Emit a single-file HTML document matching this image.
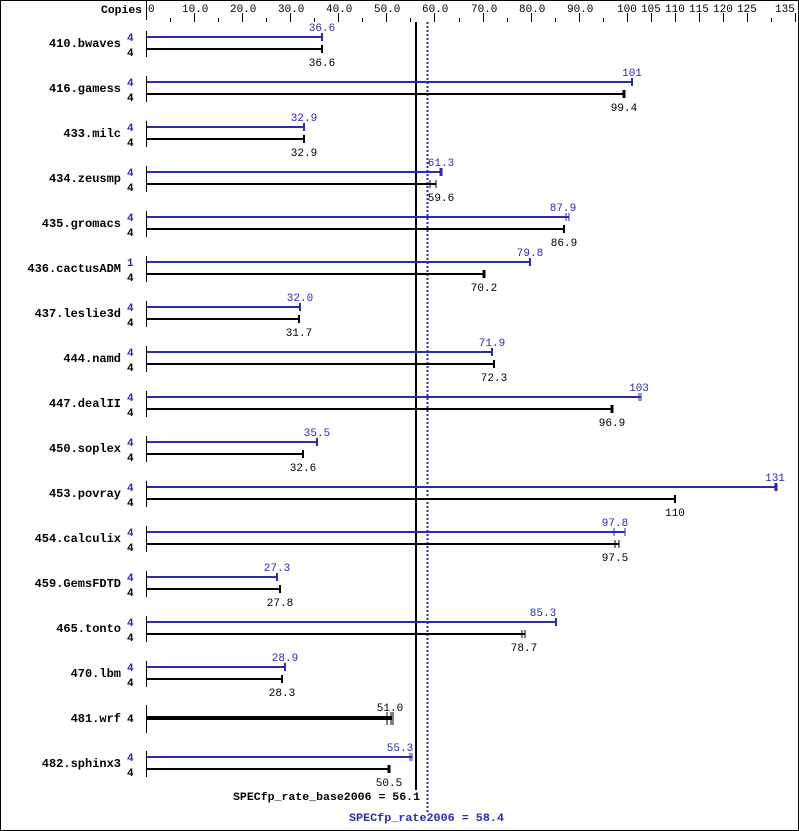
<!DOCTYPE html>
<html><head><meta charset="utf-8"><style>
body{margin:0;background:#fff}
svg{display:block}
text{font-family:"Liberation Mono","DejaVu Sans Mono",monospace}
.n{font-size:12px;font-weight:bold;fill:#000}
.c{font-size:11px;font-weight:bold}
.v{font-size:11px}
.b{fill:#2b2bb0}
.bl{stroke:#2b2bb0;stroke-width:2}
.k{stroke:#000;stroke-width:2}
</style></head><body>
<svg width="799" height="831" viewBox="0 0 799 831" xmlns="http://www.w3.org/2000/svg">
<rect x="0.5" y="0.5" width="798" height="830" fill="#fff" stroke="#000"/>
<text x="101" y="13" class="c" textLength="41" lengthAdjust="spacingAndGlyphs">Copies</text>
<g stroke="#000" stroke-width="1">
<line x1="146.5" y1="0" x2="146.5" y2="20"/>
<line x1="194.5" y1="13" x2="194.5" y2="22"/><line x1="242.5" y1="13" x2="242.5" y2="22"/><line x1="290.5" y1="13" x2="290.5" y2="22"/><line x1="338.5" y1="13" x2="338.5" y2="22"/><line x1="386.5" y1="13" x2="386.5" y2="22"/><line x1="434.5" y1="13" x2="434.5" y2="22"/><line x1="483.5" y1="13" x2="483.5" y2="22"/><line x1="531.5" y1="13" x2="531.5" y2="22"/><line x1="579.5" y1="13" x2="579.5" y2="22"/><line x1="627.5" y1="13" x2="627.5" y2="22"/><line x1="651.5" y1="13" x2="651.5" y2="22"/><line x1="675.5" y1="13" x2="675.5" y2="22"/><line x1="699.5" y1="13" x2="699.5" y2="22"/><line x1="723.5" y1="13" x2="723.5" y2="22"/><line x1="747.5" y1="13" x2="747.5" y2="22"/><line x1="795.5" y1="13" x2="795.5" y2="22"/>
<line x1="170.5" y1="18" x2="170.5" y2="22"/><line x1="218.5" y1="18" x2="218.5" y2="22"/><line x1="266.5" y1="18" x2="266.5" y2="22"/><line x1="314.5" y1="18" x2="314.5" y2="22"/><line x1="362.5" y1="18" x2="362.5" y2="22"/><line x1="410.5" y1="18" x2="410.5" y2="22"/><line x1="459.5" y1="18" x2="459.5" y2="22"/><line x1="507.5" y1="18" x2="507.5" y2="22"/><line x1="555.5" y1="18" x2="555.5" y2="22"/><line x1="603.5" y1="18" x2="603.5" y2="22"/><line x1="771.5" y1="18" x2="771.5" y2="22"/>
</g>
<g class="v" fill="#000">
<text x="148" y="12">0</text><text x="182" y="12">10.0</text><text x="230" y="12">20.0</text><text x="278" y="12">30.0</text><text x="326" y="12">40.0</text><text x="374" y="12">50.0</text><text x="422" y="12">60.0</text><text x="471" y="12">70.0</text><text x="519" y="12">80.0</text><text x="567" y="12">90.0</text><text x="617" y="12">100</text><text x="641" y="12">105</text><text x="665" y="12">110</text><text x="689" y="12">115</text><text x="713" y="12">120</text><text x="737" y="12">125</text><text x="775" y="12">135</text>
</g>

<!-- rate lines -->
<line x1="416" y1="22" x2="416" y2="790" stroke="#000" stroke-width="2"/>
<line x1="427.5" y1="22" x2="427.5" y2="812" stroke="#2b2bb0" stroke-width="2" stroke-dasharray="2,2"/>
<text x="233" y="800" class="c" textLength="187" lengthAdjust="spacingAndGlyphs">SPECfp_rate_base2006 = 56.1</text>
<text x="349" y="821" class="c b" textLength="155" lengthAdjust="spacingAndGlyphs">SPECfp_rate2006 = 58.4</text>

<!-- rows -->
<g id="rows">
<!-- 410 -->
<g transform="translate(0,0)">
<text x="121" y="47" class="n" text-anchor="end">410.bwaves</text>
<text x="127" y="41" class="c b">4</text><text x="127" y="56" class="c">4</text>
<line x1="146.5" y1="31" x2="146.5" y2="57" stroke="#000"/>
<line x1="147" y1="37" x2="322" y2="37" class="bl"/><line x1="322" y1="33" x2="322" y2="41" class="bl"/>
<line x1="147" y1="49" x2="322" y2="49" class="k"/><line x1="322" y1="45" x2="322" y2="53" class="k"/>
<text x="322" y="31" class="v b" text-anchor="middle">36.6</text><text x="322" y="66" class="v" text-anchor="middle">36.6</text>
</g>
<g transform="translate(0,45)">
<text x="121" y="47" class="n" text-anchor="end">416.gamess</text>
<text x="127" y="41" class="c b">4</text><text x="127" y="56" class="c">4</text>
<line x1="146.5" y1="31" x2="146.5" y2="57" stroke="#000"/>
<line x1="147" y1="37" x2="632" y2="37" class="bl"/><line x1="632" y1="33" x2="632" y2="41" class="bl"/>
<line x1="147" y1="49" x2="624" y2="49" class="k"/><line x1="624" y1="45" x2="624" y2="53" stroke="#000" stroke-width="3"/>
<text x="632" y="31" class="v b" text-anchor="middle">101</text><text x="624" y="66" class="v" text-anchor="middle">99.4</text>
</g>
<g transform="translate(0,90)">
<text x="121" y="47" class="n" text-anchor="end">433.milc</text>
<text x="127" y="41" class="c b">4</text><text x="127" y="56" class="c">4</text>
<line x1="146.5" y1="31" x2="146.5" y2="57" stroke="#000"/>
<line x1="147" y1="37" x2="304" y2="37" class="bl"/><line x1="304" y1="33" x2="304" y2="41" class="bl"/>
<line x1="147" y1="49" x2="304" y2="49" class="k"/><line x1="304" y1="45" x2="304" y2="53" class="k"/>
<text x="304" y="31" class="v b" text-anchor="middle">32.9</text><text x="304" y="66" class="v" text-anchor="middle">32.9</text>
</g>
<g transform="translate(0,135)">
<text x="121" y="47" class="n" text-anchor="end">434.zeusmp</text>
<text x="127" y="41" class="c b">4</text><text x="127" y="56" class="c">4</text>
<line x1="146.5" y1="31" x2="146.5" y2="57" stroke="#000"/>
<line x1="147" y1="37" x2="441" y2="37" class="bl"/><line x1="441" y1="33" x2="441" y2="41" stroke="#2b2bb0" stroke-width="3"/>
<line x1="147" y1="49" x2="436" y2="49" class="k"/><line x1="430" y1="45" x2="430" y2="53" stroke="#000"/><line x1="436" y1="45" x2="436" y2="53" stroke="#000"/>
<text x="441" y="31" class="v b" text-anchor="middle">61.3</text><text x="441" y="66" class="v" text-anchor="middle">59.6</text>
</g>
<g transform="translate(0,180)">
<text x="121" y="47" class="n" text-anchor="end">435.gromacs</text>
<text x="127" y="41" class="c b">4</text><text x="127" y="56" class="c">4</text>
<line x1="146.5" y1="31" x2="146.5" y2="57" stroke="#000"/>
<line x1="147" y1="37" x2="569" y2="37" class="bl"/><line x1="566" y1="33" x2="566" y2="41" stroke="#2b2bb0"/><line x1="569" y1="33" x2="569" y2="41" stroke="#2b2bb0"/>
<line x1="147" y1="49" x2="564" y2="49" class="k"/><line x1="564" y1="45" x2="564" y2="53" class="k"/>
<text x="563" y="31" class="v b" text-anchor="middle">87.9</text><text x="564" y="66" class="v" text-anchor="middle">86.9</text>
</g>
<g transform="translate(0,225)">
<text x="121" y="47" class="n" text-anchor="end">436.cactusADM</text>
<text x="127" y="41" class="c b">1</text><text x="127" y="56" class="c">4</text>
<line x1="146.5" y1="31" x2="146.5" y2="57" stroke="#000"/>
<line x1="147" y1="37" x2="530" y2="37" class="bl"/><line x1="530" y1="33" x2="530" y2="41" class="bl"/>
<line x1="147" y1="49" x2="484" y2="49" class="k"/><line x1="484" y1="45" x2="484" y2="53" stroke="#000" stroke-width="3"/>
<text x="530" y="31" class="v b" text-anchor="middle">79.8</text><text x="484" y="66" class="v" text-anchor="middle">70.2</text>
</g>
<g transform="translate(0,270)">
<text x="121" y="47" class="n" text-anchor="end">437.leslie3d</text>
<text x="127" y="41" class="c b">4</text><text x="127" y="56" class="c">4</text>
<line x1="146.5" y1="31" x2="146.5" y2="57" stroke="#000"/>
<line x1="147" y1="37" x2="300" y2="37" class="bl"/><line x1="300" y1="33" x2="300" y2="41" class="bl"/>
<line x1="147" y1="49" x2="299" y2="49" class="k"/><line x1="299" y1="45" x2="299" y2="53" class="k"/>
<text x="300" y="31" class="v b" text-anchor="middle">32.0</text><text x="299" y="66" class="v" text-anchor="middle">31.7</text>
</g>
<g transform="translate(0,315)">
<text x="121" y="47" class="n" text-anchor="end">444.namd</text>
<text x="127" y="41" class="c b">4</text><text x="127" y="56" class="c">4</text>
<line x1="146.5" y1="31" x2="146.5" y2="57" stroke="#000"/>
<line x1="147" y1="37" x2="492" y2="37" class="bl"/><line x1="492" y1="33" x2="492" y2="41" class="bl"/>
<line x1="147" y1="49" x2="494" y2="49" class="k"/><line x1="494" y1="45" x2="494" y2="53" class="k"/>
<text x="492" y="31" class="v b" text-anchor="middle">71.9</text><text x="494" y="66" class="v" text-anchor="middle">72.3</text>
</g>
<g transform="translate(0,360)">
<text x="121" y="47" class="n" text-anchor="end">447.dealII</text>
<text x="127" y="41" class="c b">4</text><text x="127" y="56" class="c">4</text>
<line x1="146.5" y1="31" x2="146.5" y2="57" stroke="#000"/>
<line x1="147" y1="37" x2="641" y2="37" class="bl"/><line x1="639" y1="33" x2="639" y2="41" stroke="#2b2bb0"/><line x1="641" y1="33" x2="641" y2="41" stroke="#2b2bb0"/>
<line x1="147" y1="49" x2="612" y2="49" class="k"/><line x1="612" y1="45" x2="612" y2="53" stroke="#000" stroke-width="3"/>
<text x="639" y="31" class="v b" text-anchor="middle">103</text><text x="612" y="66" class="v" text-anchor="middle">96.9</text>
</g>
<g transform="translate(0,405)">
<text x="121" y="47" class="n" text-anchor="end">450.soplex</text>
<text x="127" y="41" class="c b">4</text><text x="127" y="56" class="c">4</text>
<line x1="146.5" y1="31" x2="146.5" y2="57" stroke="#000"/>
<line x1="147" y1="37" x2="317" y2="37" class="bl"/><line x1="317" y1="33" x2="317" y2="41" class="bl"/>
<line x1="147" y1="49" x2="303" y2="49" class="k"/><line x1="303" y1="45" x2="303" y2="53" class="k"/>
<text x="317" y="31" class="v b" text-anchor="middle">35.5</text><text x="303" y="66" class="v" text-anchor="middle">32.6</text>
</g>
<g transform="translate(0,450)">
<text x="121" y="47" class="n" text-anchor="end">453.povray</text>
<text x="127" y="41" class="c b">4</text><text x="127" y="56" class="c">4</text>
<line x1="146.5" y1="31" x2="146.5" y2="57" stroke="#000"/>
<line x1="147" y1="37" x2="776" y2="37" class="bl"/><line x1="776" y1="33" x2="776" y2="41" stroke="#2b2bb0" stroke-width="3"/>
<line x1="147" y1="49" x2="675" y2="49" class="k"/><line x1="675" y1="45" x2="675" y2="53" class="k"/>
<text x="775" y="31" class="v b" text-anchor="middle">131</text><text x="675" y="66" class="v" text-anchor="middle">110</text>
</g>
<g transform="translate(0,495)">
<text x="121" y="47" class="n" text-anchor="end">454.calculix</text>
<text x="127" y="41" class="c b">4</text><text x="127" y="56" class="c">4</text>
<line x1="146.5" y1="31" x2="146.5" y2="57" stroke="#000"/>
<line x1="147" y1="37" x2="625" y2="37" class="bl"/><line x1="614" y1="33" x2="614" y2="41" stroke="#2b2bb0"/><line x1="625" y1="33" x2="625" y2="41" stroke="#2b2bb0"/>
<line x1="147" y1="49" x2="619" y2="49" class="k"/><line x1="615" y1="45" x2="615" y2="53" stroke="#000"/><line x1="619" y1="45" x2="619" y2="53" stroke="#000"/>
<text x="615" y="31" class="v b" text-anchor="middle">97.8</text><text x="615" y="66" class="v" text-anchor="middle">97.5</text>
</g>
<g transform="translate(0,540)">
<text x="121" y="47" class="n" text-anchor="end">459.GemsFDTD</text>
<text x="127" y="41" class="c b">4</text><text x="127" y="56" class="c">4</text>
<line x1="146.5" y1="31" x2="146.5" y2="57" stroke="#000"/>
<line x1="147" y1="37" x2="277" y2="37" class="bl"/><line x1="277" y1="33" x2="277" y2="41" class="bl"/>
<line x1="147" y1="49" x2="280" y2="49" class="k"/><line x1="280" y1="45" x2="280" y2="53" class="k"/>
<text x="277" y="31" class="v b" text-anchor="middle">27.3</text><text x="280" y="66" class="v" text-anchor="middle">27.8</text>
</g>
<g transform="translate(0,585)">
<text x="121" y="47" class="n" text-anchor="end">465.tonto</text>
<text x="127" y="41" class="c b">4</text><text x="127" y="56" class="c">4</text>
<line x1="146.5" y1="31" x2="146.5" y2="57" stroke="#000"/>
<line x1="147" y1="37" x2="556" y2="37" class="bl"/><line x1="556" y1="33" x2="556" y2="41" class="bl"/>
<line x1="147" y1="49" x2="525" y2="49" class="k"/><line x1="522" y1="45" x2="522" y2="53" stroke="#000"/><line x1="525" y1="45" x2="525" y2="53" stroke="#000"/>
<text x="543" y="31" class="v b" text-anchor="middle">85.3</text><text x="524" y="66" class="v" text-anchor="middle">78.7</text>
</g>
<g transform="translate(0,630)">
<text x="121" y="47" class="n" text-anchor="end">470.lbm</text>
<text x="127" y="41" class="c b">4</text><text x="127" y="56" class="c">4</text>
<line x1="146.5" y1="31" x2="146.5" y2="57" stroke="#000"/>
<line x1="147" y1="37" x2="285" y2="37" class="bl"/><line x1="285" y1="33" x2="285" y2="41" class="bl"/>
<line x1="147" y1="49" x2="282" y2="49" class="k"/><line x1="282" y1="45" x2="282" y2="53" class="k"/>
<text x="285" y="31" class="v b" text-anchor="middle">28.9</text><text x="282" y="66" class="v" text-anchor="middle">28.3</text>
</g>
<g transform="translate(0,675)">
<text x="121" y="47" class="n" text-anchor="end">481.wrf</text>
<text x="127" y="47" class="c">4</text>
<line x1="146.5" y1="30" x2="146.5" y2="58" stroke="#000"/>
<line x1="147" y1="43" x2="392" y2="43" stroke="#000" stroke-width="4"/>
<line x1="387" y1="37" x2="387" y2="50" stroke="#000"/><line x1="391" y1="37" x2="391" y2="50" stroke="#000"/><line x1="393" y1="37" x2="393" y2="50" stroke="#000"/>
<text x="390" y="36" class="v" text-anchor="middle">51.0</text>
</g>
<g transform="translate(0,720)">
<text x="121" y="47" class="n" text-anchor="end">482.sphinx3</text>
<text x="127" y="41" class="c b">4</text><text x="127" y="56" class="c">4</text>
<line x1="146.5" y1="31" x2="146.5" y2="57" stroke="#000"/>
<line x1="147" y1="37" x2="412" y2="37" class="bl"/><line x1="410" y1="33" x2="410" y2="41" stroke="#2b2bb0"/><line x1="412" y1="33" x2="412" y2="41" stroke="#2b2bb0"/>
<line x1="147" y1="49" x2="389" y2="49" class="k"/><line x1="389" y1="45" x2="389" y2="53" stroke="#000" stroke-width="3"/>
<text x="400" y="31" class="v b" text-anchor="middle">55.3</text><text x="389" y="66" class="v" text-anchor="middle">50.5</text>
</g>
</g>
</svg>
</body></html>
